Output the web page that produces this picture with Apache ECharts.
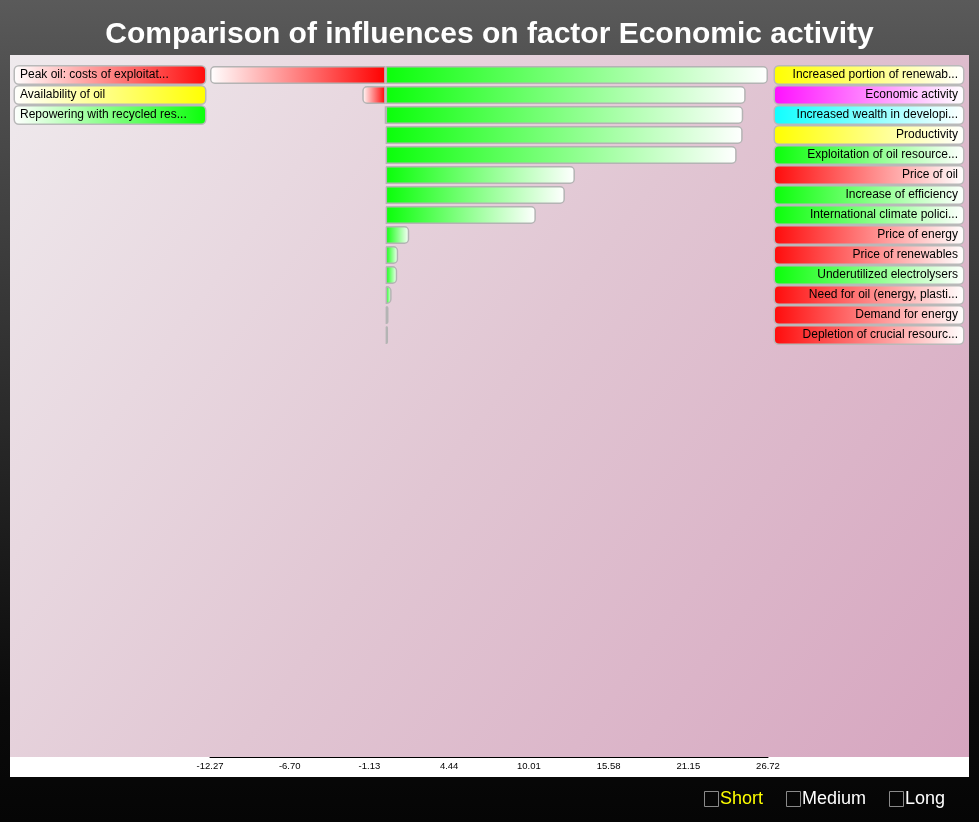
<!DOCTYPE html>
<html>
<head>
<meta charset="utf-8">
<script src="https://cdn.jsdelivr.net/npm/echarts@6/dist/echarts.min.js"></script>
<style>html,body{margin:0;padding:0;background:#000;}#chart{width:979px;height:822px;}</style>
</head>
<body>
<div id="chart"></div>
<script>
var titleText = 'Comparison of influences on factor Economic activity';
var leftLabels = ['Peak oil: costs of exploitat...', 'Availability of oil', 'Repowering with recycled res...'];
var leftColors = ['red', 'yellow', 'green'];
var leftValues = [-12.27, -1.63, -0.02];
var rightLabels = ['Increased portion of renewab...', 'Economic activity', 'Increased wealth in developi...', 'Productivity',
  'Exploitation of oil resource...', 'Price of oil', 'Increase of efficiency', 'International climate polici...',
  'Price of energy', 'Price of renewables', 'Underutilized electrolysers', 'Need for oil (energy, plasti...',
  'Demand for energy', 'Depletion of crucial resourc...'];
var rightColors = ['yellow', 'magenta', 'cyan', 'yellow', 'green', 'red', 'green', 'green', 'red', 'red', 'green', 'red', 'red', 'red'];
var rightValues = [26.72, 25.16, 24.99, 24.95, 24.53, 13.23, 12.53, 10.50, 1.65, 0.88, 0.81, 0.42, 0.20, 0.17];
var tickLabels = ['-12.27', '-6.70', '-1.13', '4.44', '10.01', '15.58', '21.15', '26.72'];
var axisMin = -12.27, axisMax = 26.72, axisStep = 5.57;
var switches = ['Short', 'Medium', 'Long'];

var palette = { red: '#ff0b0b', yellow: '#ffff00', green: '#0aff0a', magenta: '#ff10ff', cyan: '#10ffff' };
function grad(c1, c2) {
  return { type: 'linear', x: 0, y: 0, x2: 1, y2: 0, colorStops: [{ offset: 0, color: c1 }, { offset: 1, color: c2 }] };
}
var n = rightLabels.length;
var leftCats = [], leftNeg = [];
for (var i = 0; i < n; i++) {
  leftCats.push(i < leftLabels.length ? leftLabels[i] : '');
  leftNeg.push(i < leftValues.length ? leftValues[i] : null);
}
var richL = {}, richR = {};
Object.keys(palette).forEach(function (k) {
  richL[k] = { width: 180, height: 17, padding: [0, 5], align: 'left', color: '#000', fontSize: 12,
    fontFamily: 'Liberation Sans', backgroundColor: grad('#ffffff', palette[k]),
    borderColor: '#b9b9b9', borderWidth: 1.5, borderRadius: 4 };
  richR[k] = { width: 178, height: 17, padding: [0, 5], align: 'right', color: '#000', fontSize: 12,
    fontFamily: 'Liberation Sans', backgroundColor: grad(palette[k], '#ffffff'),
    borderColor: '#b9b9b9', borderWidth: 1.5, borderRadius: 4 };
});

var chart = echarts.init(document.getElementById('chart'));
var graphics = [
  { type: 'rect', z: -10, shape: { x: 10, y: 55, width: 959, height: 702 },
    style: { fill: { type: 'linear', x: 0, y: 0, x2: 1, y2: 1, colorStops: [{ offset: 0, color: '#efeaed' }, { offset: 0.5, color: '#e1c6d3' }, { offset: 1, color: '#d6a5bf' }] } } },
  { type: 'rect', z: -10, shape: { x: 10, y: 757, width: 959, height: 20 }, style: { fill: '#ffffff' } }
];
var swX = [704, 786, 889];
switches.forEach(function (s, i) {
  graphics.push({ type: 'rect', z: 10, shape: { x: swX[i] + 0.5, y: 791.5, width: 14, height: 15 }, style: { fill: 'none', stroke: '#8a8a8a', lineWidth: 1 } });
  graphics.push({ type: 'text', z: 10, x: swX[i] + 16, y: 799, style: { text: s, fill: i === 0 ? '#ffff00' : '#ffffff', fontSize: 18, fontFamily: 'Liberation Sans', textVerticalAlign: 'middle', verticalAlign: 'middle' } });
});

chart.setOption({
  backgroundColor: { type: 'linear', x: 0, y: 0, x2: 0, y2: 1, colorStops: [{ offset: 0, color: '#5a5a5a' }, { offset: 0.1, color: '#4f4f4f' }, { offset: 0.85, color: '#0b0b0b' }, { offset: 1, color: '#050505' }] },
  animation: false,
  title: { text: titleText, left: 'center', top: 15, textStyle: { color: '#ffffff', fontSize: 30, fontWeight: 'bold', fontFamily: 'Liberation Sans' } },
  graphic: graphics,
  grid: [
    { left: 210, right: 211, top: 65, height: 280 },
    { left: 210, right: 211, top: 700, height: 57 }
  ],
  xAxis: [
    { gridIndex: 0, type: 'value', min: axisMin, max: axisMax, show: false },
    { gridIndex: 1, type: 'value', min: axisMin, max: axisMax, interval: axisStep,
      axisLine: { show: true, lineStyle: { color: '#000', width: 1 } }, axisTick: { show: false }, splitLine: { show: false },
      axisLabel: { margin: 4, fontSize: 9.5, color: '#000', fontFamily: 'Liberation Sans', showMinLabel: true, showMaxLabel: true,
        formatter: function (v, idx) { return tickLabels[idx] !== undefined ? tickLabels[idx] : v.toFixed(2); } } }
  ],
  yAxis: [
    { gridIndex: 0, type: 'category', inverse: true, data: leftCats, position: 'left',
      axisLine: { show: false, onZero: false }, axisTick: { show: false }, splitLine: { show: false },
      axisLabel: { margin: 5, interval: 0, rich: richL,
        formatter: function (v, idx) { return v ? '{' + leftColors[idx] + '|' + v + '}' : ''; } } },
    { gridIndex: 0, type: 'category', inverse: true, data: rightLabels, position: 'right',
      axisLine: { show: false, onZero: false }, axisTick: { show: false }, splitLine: { show: false },
      axisLabel: { margin: 7, interval: 0, rich: richR,
        formatter: function (v, idx) { return '{' + rightColors[idx] + '|' + v + '}'; } } },
    { gridIndex: 1, type: 'category', data: [''], show: false }
  ],
  series: [
    { type: 'bar', xAxisIndex: 0, yAxisIndex: 0, data: leftNeg, barWidth: 18, barGap: '-100%',
      itemStyle: { color: grad('#ffffff', '#ff0000'), borderColor: '#b4b4b4', borderWidth: 1.5, borderRadius: [4, 0, 0, 4] } },
    { type: 'bar', xAxisIndex: 0, yAxisIndex: 0, data: rightValues, barWidth: 18, barGap: '-100%',
      itemStyle: { color: grad('#0aff0a', '#ffffff'), borderColor: '#b4b4b4', borderWidth: 1.5, borderRadius: [0, 4, 4, 0] } }
  ]
});
</script>
</body>
</html>
